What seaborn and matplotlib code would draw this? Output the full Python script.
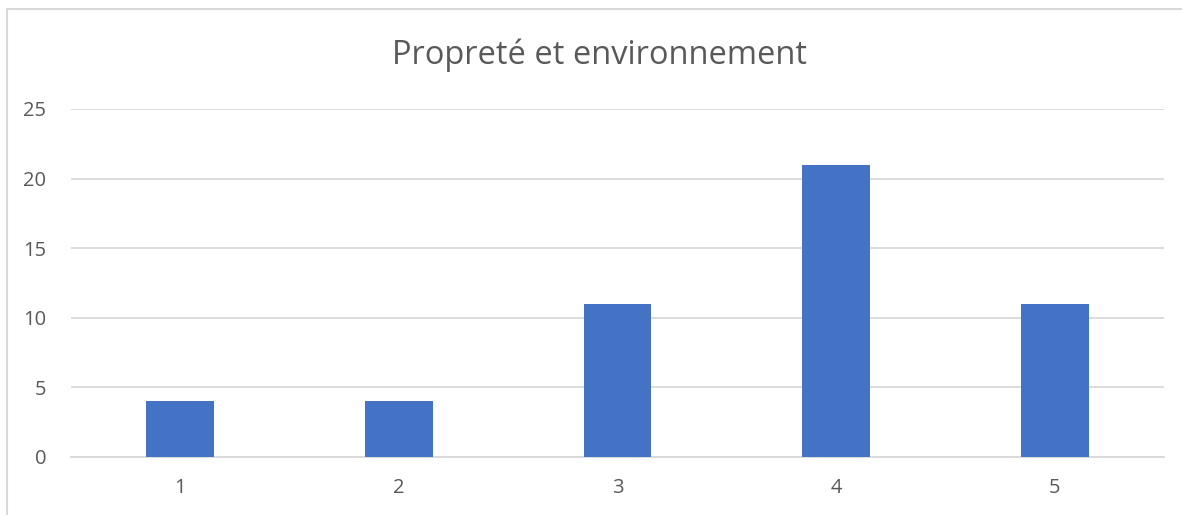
import matplotlib
matplotlib.use("Agg")
import matplotlib.pyplot as plt
import seaborn as sns
import pandas as pd
from matplotlib.patches import Rectangle

categories = ["1", "2", "3", "4", "5"]
values = [4, 4, 11, 21, 11]
yticks = [0, 5, 10, 15, 20, 25]
title = "Propreté et environnement"

sns.set_theme(style="white")
plt.rcParams['font.family'] = ['Open Sans', 'DejaVu Sans']

df = pd.DataFrame({"cat": categories, "val": values})

fig = plt.figure(figsize=(11.82, 5.15), dpi=100)
ax = fig.add_axes([71/1182, 58/515, 1093/1182, 348/515])
sns.barplot(data=df, x="cat", y="val", color="#4472C4", saturation=1, width=0.31,
            linewidth=0, ax=ax, zorder=3)

ax.set_ylim(0, 25)
ax.set_xlim(-0.5, 4.5)
ax.set_yticks(yticks)
ax.set_yticklabels([str(t) for t in yticks])
ax.grid(axis="y", color="#d9d9d9", linewidth=1.3, zorder=0)
ax.grid(axis="x", visible=False)
for s in ["top", "right", "left"]:
    ax.spines[s].set_visible(False)
ax.spines["bottom"].set_color("#d9d9d9")
ax.spines["bottom"].set_linewidth(1.3)
ax.tick_params(axis="both", length=0, labelsize=14.5, colors="#595959")
ax.tick_params(axis="y", pad=18)
ax.tick_params(axis="x", pad=15)
ax.set_xlabel("")
ax.set_ylabel("")

fig.text(600/1182, 1 - 55/515, title, ha="center", va="center", fontsize=23.5, color="#595959")

fig.patches.append(Rectangle((7/1182, -0.1), 1.2, 1 - 9/515 + 0.1, transform=fig.transFigure,
                             fill=False, edgecolor="#d9d9d9", linewidth=1.5, zorder=0))

fig.savefig("out.png", dpi=100)
